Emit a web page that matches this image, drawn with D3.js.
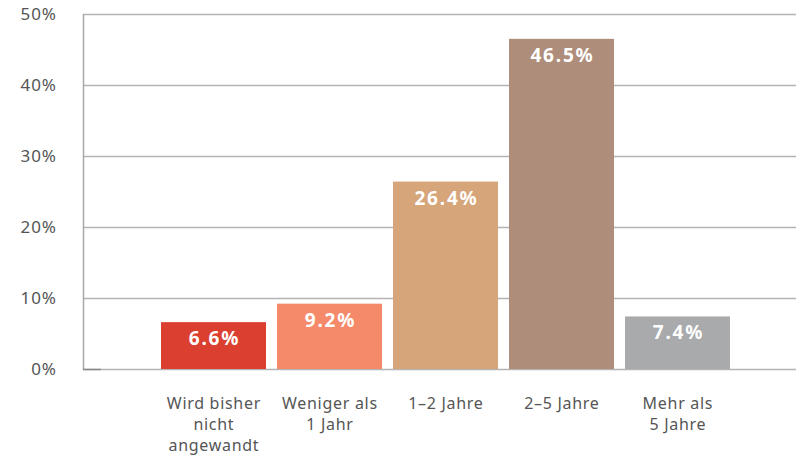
<!DOCTYPE html>
<html>
<head>
<meta charset="utf-8">
<script src="https://cdn.jsdelivr.net/npm/d3@7/dist/d3.min.js"></script>
<style>
  body { margin: 0; background: #fff; }
  text { font-family: "Noto Sans", "Open Sans", sans-serif; }
</style>
</head>
<body>
<div id="chart"></div>
<script>
// data
const categories = [["Wird bisher", "nicht", "angewandt"], ["Weniger als", "1 Jahr"], ["1–2 Jahre"], ["2–5 Jahre"], ["Mehr als", "5 Jahre"]];
const values = [6.6, 9.2, 26.4, 46.5, 7.4];
const colors = ["#db3f30", "#f58a6b", "#d6a57a", "#ae8d7a", "#a9aaac"];
const yTicks = [0, 10, 20, 30, 40, 50];

const width = 796, height = 457;
const axisX = 83, plotRight = 796;

const svg = d3.select("#chart").append("svg")
  .attr("width", width)
  .attr("height", height);

const y = d3.scaleLinear().domain([0, 50]).range([369, 14]);
const x = d3.scaleBand()
  .domain(d3.range(values.length))
  .range([155.5, 735.5])
  .paddingInner(0.095)
  .paddingOuter(0.0475);

// gridlines
svg.append("g")
  .selectAll("line")
  .data(yTicks)
  .join("line")
  .attr("x1", axisX)
  .attr("x2", plotRight)
  .attr("y1", d => Math.round(y(d)) + 0.5)
  .attr("y2", d => Math.round(y(d)) + 0.5)
  .attr("stroke", "#b4b4b4")
  .attr("stroke-width", 1.5);

// y axis line
svg.append("line")
  .attr("x1", axisX + 0.5).attr("x2", axisX + 0.5)
  .attr("y1", y(50)).attr("y2", y(0) + 1)
  .attr("stroke", "#a8a8a8")
  .attr("stroke-width", 1.5);

// short dark segment at origin
svg.append("line")
  .attr("x1", axisX).attr("x2", axisX + 18)
  .attr("y1", Math.round(y(0)) + 0.5).attr("y2", Math.round(y(0)) + 0.5)
  .attr("stroke", "#8a8a8a")
  .attr("stroke-width", 1.5);

// y tick labels
svg.append("g")
  .selectAll("text")
  .data(yTicks)
  .join("text")
  .attr("x", 57)
  .attr("y", d => y(d))
  .attr("dy", "0.36em")
  .attr("text-anchor", "end")
  .attr("font-size", 17)
  .attr("letter-spacing", 1)
  .attr("fill", "#555")
  .text(d => d + "%");

// bars
svg.append("g")
  .selectAll("rect")
  .data(values)
  .join("rect")
  .attr("x", (d, i) => x(i))
  .attr("y", d => y(d))
  .attr("width", x.bandwidth())
  .attr("height", d => y(0) - y(d))
  .attr("fill", (d, i) => colors[i]);

// value labels
svg.append("g")
  .selectAll("text")
  .data(values)
  .join("text")
  .attr("x", (d, i) => x(i) + x.bandwidth() / 2 + 1)
  .attr("y", d => y(d) + 23)
  .attr("text-anchor", "middle")
  .attr("font-size", 19)
  .attr("font-weight", "bold")
  .attr("letter-spacing", 1.8)
  .attr("fill", "#fff")
  .text(d => d.toFixed(1) + "%");

// category labels
const cat = svg.append("g")
  .selectAll("text")
  .data(categories)
  .join("text")
  .attr("x", (d, i) => x(i) + x.bandwidth() / 2 + 0.4)
  .attr("y", 409)
  .attr("text-anchor", "middle")
  .attr("font-size", 16)
  .attr("letter-spacing", 0.7)
  .attr("fill", "#555");

cat.selectAll("tspan")
  .data(d => d)
  .join("tspan")
  .attr("x", function () { return d3.select(this.parentNode).attr("x"); })
  .attr("dy", (d, i) => i === 0 ? 0 : 21)
  .text(d => d);
</script>
</body>
</html>
